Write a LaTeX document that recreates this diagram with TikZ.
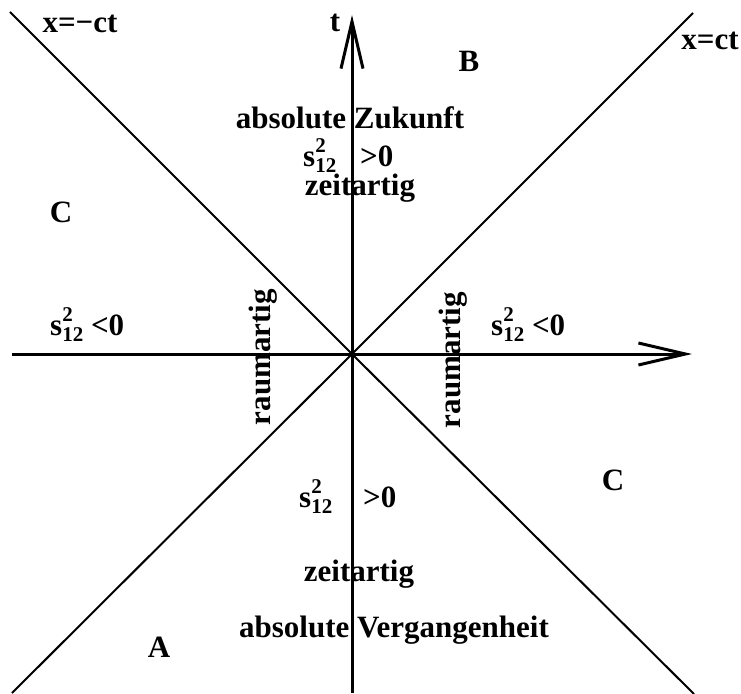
\documentclass[tikz,border=0pt]{standalone}
\usepackage{fontspec}
\setmainfont{Liberation Serif}
\usetikzlibrary{arrows.meta}
\newcommand{\sint}{s\rlap{\raisebox{0.42em}{\fontsize{21}{21}\selectfont 2}}\raisebox{-0.2em}{\fontsize{21}{21}\selectfont 12}}

\begin{document}
\begin{tikzpicture}[
  x=1pt, y=-1pt,
  lbl/.style={font=\fontsize{31}{34}\selectfont\bfseries, inner sep=0pt, anchor=base},
  axis/.style={line width=3pt, -{Straight Barb[length=47pt, width=22pt, line width=3pt]}},
  cone/.style={line width=2pt}
]
\useasboundingbox (0,0) rectangle (741,693);

% axes and light cone
\coordinate (o) at (352,354);
\coordinate (xl) at (12,354);
\coordinate (xr) at (692,354);
\coordinate (tb) at (352,693);
\coordinate (tt) at (352,15);
\coordinate (nw) at (10,12);
\coordinate (se) at (694,694);
\coordinate (sw) at (12,693);
\coordinate (ne) at (693,13);

\draw[cone] (nw) -- (o) -- (se);
\draw[cone] (sw) -- (o) -- (ne);
\draw[axis] (xl) -- (xr);
\draw[axis] (tb) -- (tt);

% labels
\node[lbl] (tlab) at (335,32) {t};
\node[lbl] (lneg) at (80,33) {x=−ct};
\node[lbl] (lpos) at (710,50) {x=ct};
\node[lbl] (B) at (469,71) {B};
\node[lbl] (Cl) at (61,222) {C};
\node[lbl] (Cr) at (613,490) {C};
\node[lbl] (A) at (159,657) {A};

\node[lbl] (zuk) at (350,128) {absolute Zukunft};
\node[lbl, anchor=base west] (szuk) at (303,166) {\sint};
\node[lbl, anchor=base west] (gtzuk) at (360,166) {>0};
\node[lbl] (zeitzuk) at (360,195) {zeitartig};

\node[lbl, anchor=base west] (sl) at (50,335) {\sint{} <0};
\node[lbl, anchor=base west] (sr) at (491,335) {\sint{} <0};
\node[lbl, anchor=center, rotate=90] (rl) at (263,357) {raumartig};
\node[lbl, anchor=center, rotate=90] (rr) at (453,360) {raumartig};

\node[lbl, anchor=base west] (sverg) at (299,507) {\sint};
\node[lbl, anchor=base west] (gtverg) at (363,507) {>0};
\node[lbl] (zeitverg) at (359,581) {zeitartig};
\node[lbl] (verg) at (394,637) {absolute Vergangenheit};

\end{tikzpicture}
\end{document}
